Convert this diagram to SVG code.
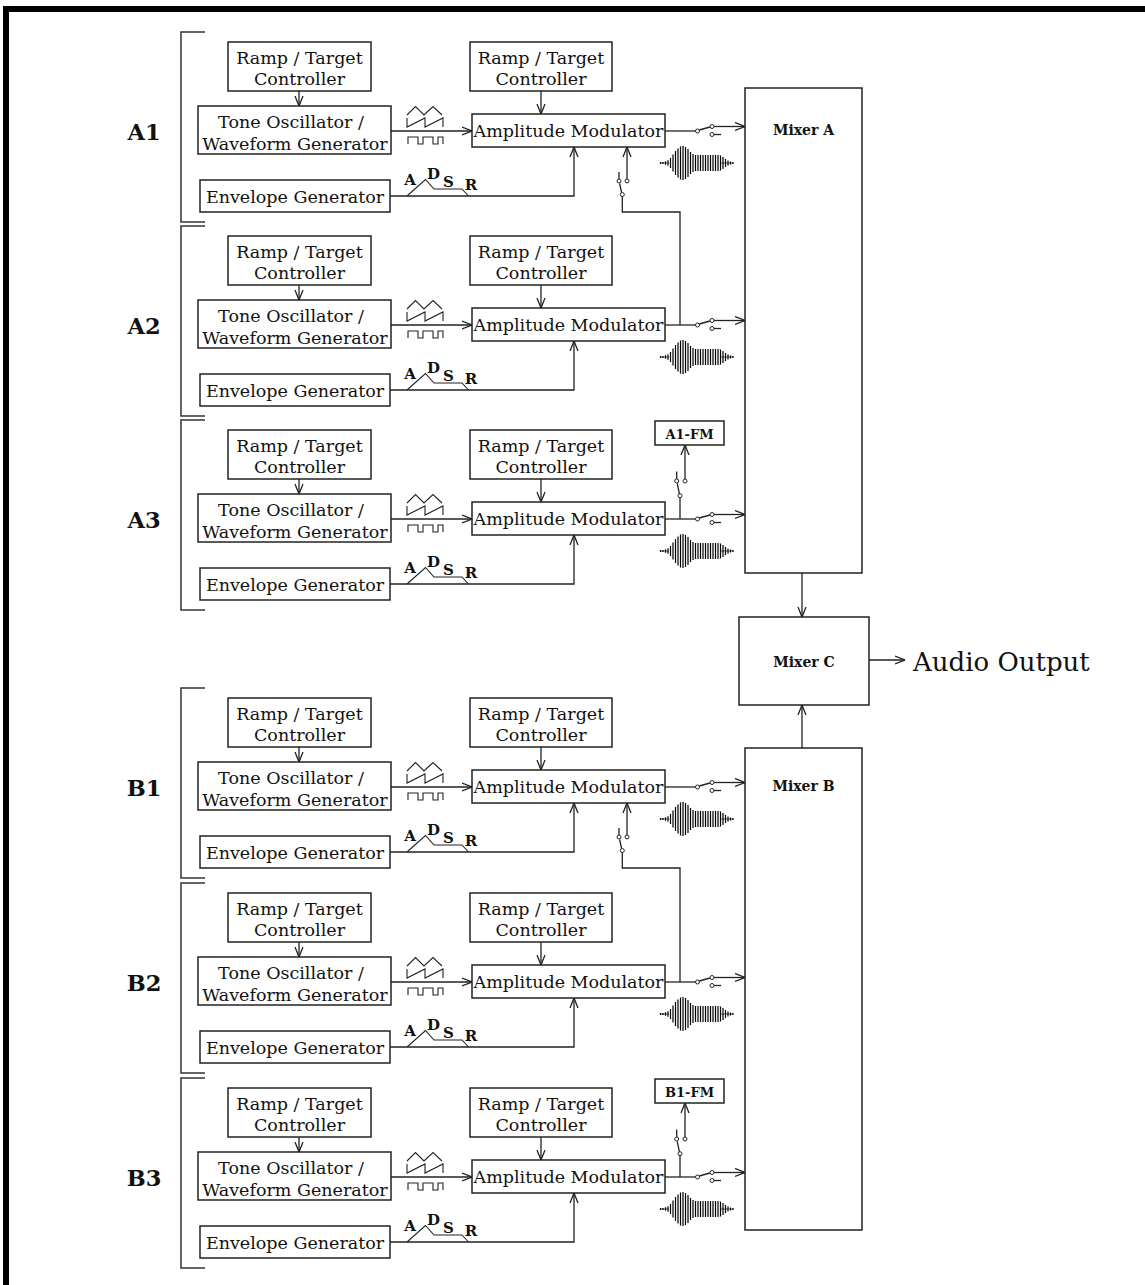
<svg xmlns="http://www.w3.org/2000/svg" xmlns:xlink="http://www.w3.org/1999/xlink" width="1145" height="1285" viewBox="0 0 1145 1285">
<style>
.box{fill:#fff;stroke:#222;stroke-width:1.5}
.t{font-family:"DejaVu Serif","Liberation Serif",serif;font-size:17.5px;fill:#111;text-anchor:middle}
.lbl{font-family:"DejaVu Serif","Liberation Serif",serif;font-size:22.5px;font-weight:bold;fill:#111;text-anchor:middle}
.mx{font-family:"DejaVu Serif","Liberation Serif",serif;font-size:14px;font-weight:bold;fill:#111;text-anchor:middle}
.fm{font-family:"DejaVu Serif","Liberation Serif",serif;font-size:13px;font-weight:bold;fill:#111;text-anchor:middle}
.ad{font-family:"DejaVu Serif","Liberation Serif",serif;font-size:15px;font-weight:bold;fill:#111;text-anchor:middle}
.ln{fill:none;stroke:#222;stroke-width:1.3}
.ar{fill:none;stroke:#222;stroke-width:1.3;marker-end:url(#arr)}
.ic{fill:none;stroke:#222;stroke-width:1.1}
.sw{fill:#fff;stroke:#222;stroke-width:1}
.br{fill:none;stroke:#333;stroke-width:1.5}
</style>
<defs>
<marker id="arr" viewBox="0 0 10 10" refX="10" refY="5" markerWidth="10" markerHeight="10" markerUnits="userSpaceOnUse" orient="auto">
<path d="M0,1 L10,5 L0,9" fill="none" stroke="#222" stroke-width="1.3"/>
</marker>
<g id="burst">
<path d="M0,0H9M61,0H73" fill="none" stroke="#333" stroke-width="0.8"/>
<path fill="none" stroke="#000" stroke-width="1.2" d="M0.5,-1V1M3,-1V1M5.5,-1.7V1.7M8,-2.8V2.8M10.5,-5V5M13,-8.5V8.5M15.5,-12V12M18,-14.5V14.5M20.5,-16.5V16.5M23,-17V17M25.5,-16V16M28,-14V14M30.5,-11V11M33,-9V9M35.5,-8V8M38,-8V8M40.5,-8V8M43,-8V8M45.5,-8V8M48,-8V8M50.5,-8V8M53,-8V8M55.5,-8V8M58,-8V8M60.5,-7.5V7.5M63,-6V6M65.5,-4V4M68,-2.5V2.5M70.5,-1.5V1.5M73,-1V1"/>
</g>
<g id="waves">
<path class="ic" d="M407,115 L415.5,106.5 L424,115 L433,106.5 L442,115"/>
<path class="ic" d="M407,118 V127 L425,118 V127 L443,118 V127"/>
<path class="ic" d="M408,144 V137 H418 V144 H423 V137 H433 V144 H438 V137 H443 V144"/>
</g>
<g id="adsr">
<path class="ic" d="M407,196 L425.5,179.5 L434,189 L462,189 L468.5,196"/>
<text class="ad" x="410" y="185">A</text>
<text class="ad" x="433.5" y="179">D</text>
<text class="ad" x="448.5" y="186.5">S</text>
<text class="ad" x="471" y="190">R</text>
</g>
<g id="outsw">
<path class="ln" d="M665,131 H695.5"/>
<circle class="sw" cx="697.5" cy="131" r="2"/>
<path class="ln" d="M699.3,130 L710,127"/>
<circle class="sw" cx="712" cy="126.5" r="2"/>
<circle class="sw" cx="712" cy="134.5" r="2"/>
<path class="ln" d="M714,134.5 H721"/>
<path class="ar" d="M714,126.5 H745"/>
</g>
</defs>

<!-- frame -->
<rect x="3" y="6" width="1142" height="6" fill="#000"/>
<rect x="3" y="6" width="6" height="1279" fill="#000"/>

<!-- brackets and section labels -->
<g id="brackets">
<path class="br" d="M205,32 H181 V222 H205"/>
<path class="br" d="M205,226 H181 V416 H205"/>
<path class="br" d="M205,420 H181 V610 H205"/>
<path class="br" d="M205,688 H181 V878 H205"/>
<path class="br" d="M205,883 H181 V1073 H205"/>
<path class="br" d="M205,1078 H181 V1268 H205"/>
</g>
<g id="labels">
<text class="lbl" x="144" y="140">A1</text>
<text class="lbl" x="144" y="334">A2</text>
<text class="lbl" x="144" y="528">A3</text>
<text class="lbl" x="144" y="796">B1</text>
<text class="lbl" x="144" y="991">B2</text>
<text class="lbl" x="144" y="1186">B3</text>
</g>

<!-- connectors -->
<g id="connectors">
<g transform="translate(0,0)">
<path class="ar" d="M299,91 V106"/><path class="ar" d="M541,91 V114"/>
<path class="ar" d="M391,131 H472"/><path class="ar" d="M390,196 H574 V147"/>
<use xlink:href="#waves"/><use xlink:href="#adsr"/><use xlink:href="#outsw"/><use xlink:href="#burst" x="660" y="163"/>
<circle class="sw" cx="619" cy="181" r="2"/><circle class="sw" cx="627" cy="181" r="2"/><circle class="sw" cx="622.3" cy="194.5" r="2"/>
<path class="ln" d="M621.6,192.6 L619.6,183.5"/><path class="ln" d="M619,179 V172"/>
<path class="ar" d="M627,179 V147"/>
<path class="ln" d="M622.3,196.5 V212 H680 V325"/>
</g>
<g transform="translate(0,194)">
<path class="ar" d="M299,91 V106"/><path class="ar" d="M541,91 V114"/>
<path class="ar" d="M391,131 H472"/><path class="ar" d="M390,196 H574 V147"/>
<use xlink:href="#waves"/><use xlink:href="#adsr"/><use xlink:href="#outsw"/><use xlink:href="#burst" x="660" y="163"/>
</g>
<g transform="translate(0,388)">
<path class="ar" d="M299,91 V106"/><path class="ar" d="M541,91 V114"/>
<path class="ar" d="M391,131 H472"/><path class="ar" d="M390,196 H574 V147"/>
<use xlink:href="#waves"/><use xlink:href="#adsr"/><use xlink:href="#outsw"/><use xlink:href="#burst" x="660" y="163"/>
<path class="ln" d="M680,131 V109.7"/>
<circle class="sw" cx="676.7" cy="93" r="2"/><circle class="sw" cx="685" cy="93" r="2"/><circle class="sw" cx="680" cy="107.7" r="2"/>
<path class="ln" d="M679.4,105.8 L677.2,95.4"/><path class="ln" d="M676.7,91 V83.5"/>
<path class="ar" d="M685,91 V57"/>
</g>
<g transform="translate(0,656)">
<path class="ar" d="M299,91 V106"/><path class="ar" d="M541,91 V114"/>
<path class="ar" d="M391,131 H472"/><path class="ar" d="M390,196 H574 V147"/>
<use xlink:href="#waves"/><use xlink:href="#adsr"/><use xlink:href="#outsw"/><use xlink:href="#burst" x="660" y="163"/>
<circle class="sw" cx="619" cy="181" r="2"/><circle class="sw" cx="627" cy="181" r="2"/><circle class="sw" cx="622.3" cy="194.5" r="2"/>
<path class="ln" d="M621.6,192.6 L619.6,183.5"/><path class="ln" d="M619,179 V172"/>
<path class="ar" d="M627,179 V147"/>
<path class="ln" d="M622.3,196.5 V212 H680 V326"/>
</g>
<g transform="translate(0,851)">
<path class="ar" d="M299,91 V106"/><path class="ar" d="M541,91 V114"/>
<path class="ar" d="M391,131 H472"/><path class="ar" d="M390,196 H574 V147"/>
<use xlink:href="#waves"/><use xlink:href="#adsr"/><use xlink:href="#outsw"/><use xlink:href="#burst" x="660" y="163"/>
</g>
<g transform="translate(0,1046)">
<path class="ar" d="M299,91 V106"/><path class="ar" d="M541,91 V114"/>
<path class="ar" d="M391,131 H472"/><path class="ar" d="M390,196 H574 V147"/>
<use xlink:href="#waves"/><use xlink:href="#adsr"/><use xlink:href="#outsw"/><use xlink:href="#burst" x="660" y="163"/>
<path class="ln" d="M680,131 V109.7"/>
<circle class="sw" cx="676.7" cy="93" r="2"/><circle class="sw" cx="685" cy="93" r="2"/><circle class="sw" cx="680" cy="107.7" r="2"/>
<path class="ln" d="M679.4,105.8 L677.2,95.4"/><path class="ln" d="M676.7,91 V83.5"/>
<path class="ar" d="M685,91 V57"/>
</g>
<path class="ar" d="M802,573 V617"/>
<path class="ar" d="M802,748 V705"/>
<path class="ar" d="M869,660 H905"/>
</g>

<!-- section A1 -->
<g transform="translate(0,0)">
<g id="A1-ramp-osc"><rect class="box" x="228" y="42" width="143" height="49"/><text class="t" x="299.5" y="64">Ramp / Target</text><text class="t" x="299.5" y="85">Controller</text></g>
<g id="A1-osc"><rect class="box" x="198" y="106" width="193" height="48"/><text class="t" x="291" y="128">Tone Oscillator /</text><text class="t" x="295" y="150">Waveform Generator</text></g>
<g id="A1-env"><rect class="box" x="200" y="180" width="190" height="32"/><text class="t" x="295" y="203">Envelope Generator</text></g>
<g id="A1-ramp-amp"><rect class="box" x="470" y="42" width="142" height="49"/><text class="t" x="541" y="64">Ramp / Target</text><text class="t" x="541" y="85">Controller</text></g>
<g id="A1-am"><rect class="box" x="472" y="114" width="193" height="33"/><text class="t" x="568.5" y="137">Amplitude Modulator</text></g>
</g>
<!-- section A2 -->
<g transform="translate(0,194)">
<g id="A2-ramp-osc"><rect class="box" x="228" y="42" width="143" height="49"/><text class="t" x="299.5" y="64">Ramp / Target</text><text class="t" x="299.5" y="85">Controller</text></g>
<g id="A2-osc"><rect class="box" x="198" y="106" width="193" height="48"/><text class="t" x="291" y="128">Tone Oscillator /</text><text class="t" x="295" y="150">Waveform Generator</text></g>
<g id="A2-env"><rect class="box" x="200" y="180" width="190" height="32"/><text class="t" x="295" y="203">Envelope Generator</text></g>
<g id="A2-ramp-amp"><rect class="box" x="470" y="42" width="142" height="49"/><text class="t" x="541" y="64">Ramp / Target</text><text class="t" x="541" y="85">Controller</text></g>
<g id="A2-am"><rect class="box" x="472" y="114" width="193" height="33"/><text class="t" x="568.5" y="137">Amplitude Modulator</text></g>
</g>
<!-- section A3 -->
<g transform="translate(0,388)">
<g id="A3-ramp-osc"><rect class="box" x="228" y="42" width="143" height="49"/><text class="t" x="299.5" y="64">Ramp / Target</text><text class="t" x="299.5" y="85">Controller</text></g>
<g id="A3-osc"><rect class="box" x="198" y="106" width="193" height="48"/><text class="t" x="291" y="128">Tone Oscillator /</text><text class="t" x="295" y="150">Waveform Generator</text></g>
<g id="A3-env"><rect class="box" x="200" y="180" width="190" height="32"/><text class="t" x="295" y="203">Envelope Generator</text></g>
<g id="A3-ramp-amp"><rect class="box" x="470" y="42" width="142" height="49"/><text class="t" x="541" y="64">Ramp / Target</text><text class="t" x="541" y="85">Controller</text></g>
<g id="A3-am"><rect class="box" x="472" y="114" width="193" height="33"/><text class="t" x="568.5" y="137">Amplitude Modulator</text></g>
<g id="A1-FM"><rect class="box" x="655" y="33" width="69" height="24"/><text class="fm" x="689.5" y="51">A1-FM</text></g>
</g>
<!-- section B1 -->
<g transform="translate(0,656)">
<g id="B1-ramp-osc"><rect class="box" x="228" y="42" width="143" height="49"/><text class="t" x="299.5" y="64">Ramp / Target</text><text class="t" x="299.5" y="85">Controller</text></g>
<g id="B1-osc"><rect class="box" x="198" y="106" width="193" height="48"/><text class="t" x="291" y="128">Tone Oscillator /</text><text class="t" x="295" y="150">Waveform Generator</text></g>
<g id="B1-env"><rect class="box" x="200" y="180" width="190" height="32"/><text class="t" x="295" y="203">Envelope Generator</text></g>
<g id="B1-ramp-amp"><rect class="box" x="470" y="42" width="142" height="49"/><text class="t" x="541" y="64">Ramp / Target</text><text class="t" x="541" y="85">Controller</text></g>
<g id="B1-am"><rect class="box" x="472" y="114" width="193" height="33"/><text class="t" x="568.5" y="137">Amplitude Modulator</text></g>
</g>
<!-- section B2 -->
<g transform="translate(0,851)">
<g id="B2-ramp-osc"><rect class="box" x="228" y="42" width="143" height="49"/><text class="t" x="299.5" y="64">Ramp / Target</text><text class="t" x="299.5" y="85">Controller</text></g>
<g id="B2-osc"><rect class="box" x="198" y="106" width="193" height="48"/><text class="t" x="291" y="128">Tone Oscillator /</text><text class="t" x="295" y="150">Waveform Generator</text></g>
<g id="B2-env"><rect class="box" x="200" y="180" width="190" height="32"/><text class="t" x="295" y="203">Envelope Generator</text></g>
<g id="B2-ramp-amp"><rect class="box" x="470" y="42" width="142" height="49"/><text class="t" x="541" y="64">Ramp / Target</text><text class="t" x="541" y="85">Controller</text></g>
<g id="B2-am"><rect class="box" x="472" y="114" width="193" height="33"/><text class="t" x="568.5" y="137">Amplitude Modulator</text></g>
</g>
<!-- section B3 -->
<g transform="translate(0,1046)">
<g id="B3-ramp-osc"><rect class="box" x="228" y="42" width="143" height="49"/><text class="t" x="299.5" y="64">Ramp / Target</text><text class="t" x="299.5" y="85">Controller</text></g>
<g id="B3-osc"><rect class="box" x="198" y="106" width="193" height="48"/><text class="t" x="291" y="128">Tone Oscillator /</text><text class="t" x="295" y="150">Waveform Generator</text></g>
<g id="B3-env"><rect class="box" x="200" y="180" width="190" height="32"/><text class="t" x="295" y="203">Envelope Generator</text></g>
<g id="B3-ramp-amp"><rect class="box" x="470" y="42" width="142" height="49"/><text class="t" x="541" y="64">Ramp / Target</text><text class="t" x="541" y="85">Controller</text></g>
<g id="B3-am"><rect class="box" x="472" y="114" width="193" height="33"/><text class="t" x="568.5" y="137">Amplitude Modulator</text></g>
<g id="B1-FM"><rect class="box" x="655" y="33" width="69" height="24"/><text class="fm" x="689.5" y="51">B1-FM</text></g>
</g>

<!-- mixers -->
<g id="mixer-a"><rect class="box" x="745" y="88" width="117" height="485"/><text class="mx" x="803.5" y="135">Mixer A</text></g>
<g id="mixer-b"><rect class="box" x="745" y="748" width="117" height="482"/><text class="mx" x="803.5" y="791">Mixer B</text></g>
<g id="mixer-c"><rect class="box" x="739" y="617" width="130" height="88"/><text class="mx" x="804" y="667">Mixer C</text></g>
<g id="audio-output"><text x="913" y="671" font-family="DejaVu Serif, Liberation Serif, serif" font-size="26" fill="#111">Audio Output</text></g>
</svg>
